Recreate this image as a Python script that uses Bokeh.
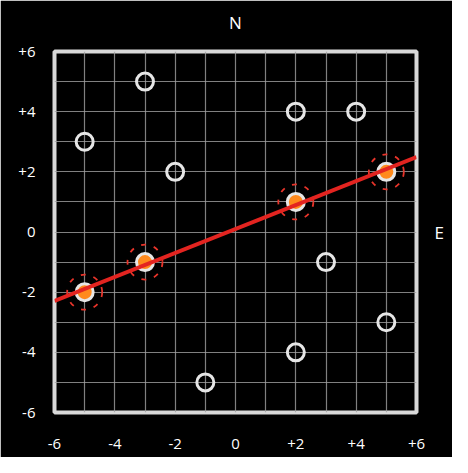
import numpy as np
from bokeh.plotting import figure
from bokeh.models import Range1d, FixedTicker, LinearAxis
from bokeh.embed import file_html
from bokeh.resources import INLINE

# data
open_x = [-5, -3, -2, 2, 4, 3, 5, 2, -1]
open_y = [3, 5, 2, 4, 4, -1, -3, -4, -5]
hi_x = [-5, -3, 2, 5]
hi_y = [-2, -1, 1, 2]
tick_vals = [-6, -4, -2, 0, 2, 4, 6]
x_tick_labels = ["-6", "-4", "-2", "0", "+2", "+4", "+6"]
y_tick_labels = ["-6", "-4", "-2", "0", "+2", "+4", "+6"]
grid_vals = list(range(-6, 7))

FONT = "Open Sans"

p = figure(width=452, height=457, output_backend="svg", toolbar_location=None,
           x_range=Range1d(-6, 6), y_range=Range1d(-6, 6),
           min_border_left=54, min_border_right=36, min_border_top=51, min_border_bottom=45)
p.background_fill_color = "black"
p.border_fill_color = "black"
p.outline_line_color = "#d9d9d9"
p.outline_line_width = 4

for ax in (p.xaxis[0], p.yaxis[0]):
    ax.ticker = FixedTicker(ticks=tick_vals)
    ax.axis_line_color = None
    ax.major_tick_line_color = None
    ax.minor_tick_line_color = None
    ax.major_label_text_color = "white"
    ax.major_label_text_font = FONT
    ax.major_label_text_font_size = "15px"
p.xaxis[0].major_label_overrides = {v: s for v, s in zip(tick_vals, x_tick_labels)}
p.yaxis[0].major_label_overrides = {v: s for v, s in zip(tick_vals, y_tick_labels)}
p.xaxis[0].major_label_standoff = 20
p.yaxis[0].major_label_standoff = 13


def direction_axis(label, standoff):
    return LinearAxis(ticker=FixedTicker(ticks=[]), axis_label=label,
                      axis_line_color=None, major_tick_line_color=None,
                      minor_tick_line_color=None, major_label_text_color=None,
                      axis_label_text_color="white", axis_label_text_font=FONT,
                      axis_label_text_font_size="17px", axis_label_text_font_style="normal",
                      axis_label_orientation="horizontal", axis_label_standoff=standoff)


p.add_layout(direction_axis("N", 18), "above")
p.add_layout(direction_axis("E", 18), "right")

for g in (p.xgrid[0], p.ygrid[0]):
    g.ticker = FixedTicker(ticks=grid_vals)
    g.grid_line_color = "#a0a0a0"
    g.grid_line_width = 1.2
    g.grid_line_alpha = 0.8

# fit line
slope, intercept = np.polyfit(hi_x, hi_y, 1)
lx = [-6, 6]
ly = [slope * v + intercept for v in lx]

# open points
p.scatter(open_x, open_y, size=17, marker="circle", fill_color=None,
          line_color="#e6e6e6", line_width=3)

# highlighted points: red marks
p.scatter(hi_x, hi_y, size=35, marker="circle", fill_color=None,
          line_color="#e8342a", line_width=1.8, line_dash="5 8")
p.scatter(hi_x, hi_y, size=17, marker="circle", fill_color="#ff8a1c",
          line_color="#e6e6e6", line_width=3)

p.line(lx, ly, line_color="#e32420", line_width=4)

open("out.html", "w").write(file_html(p, INLINE))
